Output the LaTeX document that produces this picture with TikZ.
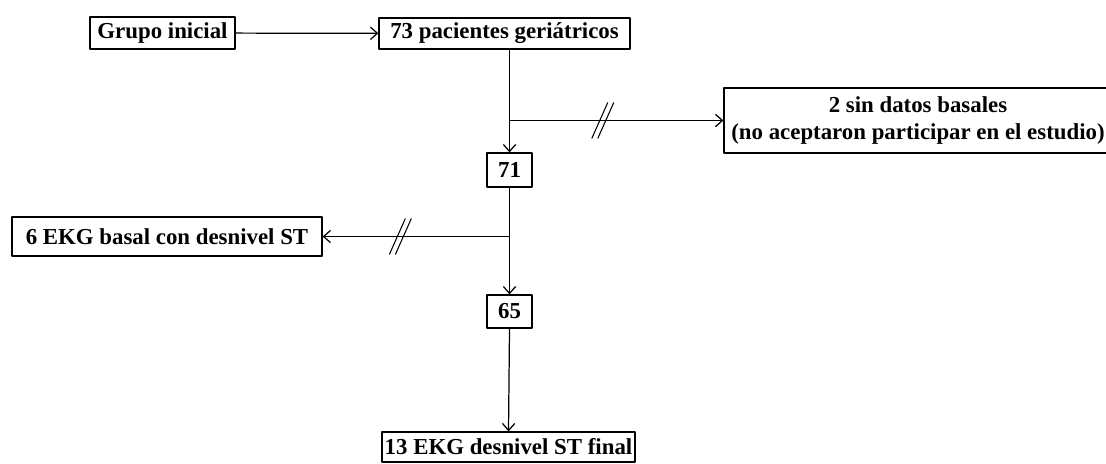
\documentclass[tikz,border=0pt]{standalone}
\usepackage{fontspec}
\setmainfont{Liberation Serif}
\usetikzlibrary{arrows.meta}
\begin{document}
\begin{tikzpicture}[>={Straight Barb[length=4pt,width=7pt]},line join=round,line width=0.7pt,font=\fontsize{13}{15.5}\selectfont\bfseries,
	box/.style={draw,inner sep=0pt,align=center},
	cut/.pic={\draw[line width=0.6pt] (-0.22,-0.36)--(0.1,0.36) (-0.1,-0.36)--(0.22,0.36);}]
	\useasboundingbox (0,0) rectangle (22.12,9.26);
	\node[box,minimum width=2.9cm,minimum height=0.64cm] (grupo) at (3.25,8.6) {Grupo inicial};
	\node[box,minimum width=5.02cm,minimum height=0.62cm] (pacientes) at (10.09,8.59) {73 pacientes geriátricos};
	\node[box,minimum width=7.76cm,minimum height=1.3cm] (sindatos) at (18.36,6.85) {2 sin datos basales\\(no aceptaron participar en el estudio)};
	\node[box,minimum width=0.9cm,minimum height=0.68cm] (n71) at (10.19,5.86) {71};
	\node[box,minimum width=6.2cm,minimum height=0.78cm] (basal) at (3.34,4.53) {6 EKG basal con desnivel ST};
	\node[box,minimum width=0.9cm,minimum height=0.66cm] (n65) at (10.19,3.03) {65};
	\node[box,minimum width=5.06cm,minimum height=0.6cm] (final) at (10.17,0.32) {13 EKG desnivel ST final};
	\coordinate (b1) at (n71 |- sindatos);
	\coordinate (b2) at (n71 |- basal);
	\draw[->] (grupo)--(pacientes);
	\draw[->] (pacientes.south -| n71)--(n71.north);
	\draw[->] (b1)--(sindatos.west);
	\draw[->] (n71.south)--(n65.north);
	\draw[->] (b2)--(basal.east);
	\draw[->] (n65.south)--(final.north);
	\path (b1)--(sindatos.west) pic[pos=0.436]{cut} (b2)--(basal.east) pic[pos=0.584]{cut};
\end{tikzpicture}
\end{document}
